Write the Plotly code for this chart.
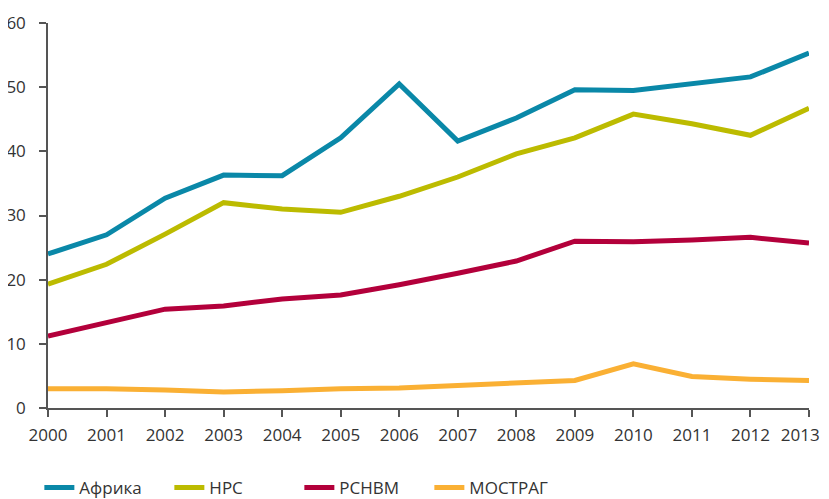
import plotly.graph_objects as go

years = list(range(2000, 2014))
year_labels = [str(y) for y in years[:-1]] + ["2013\u00a0\u00a0\u00a0\u00a0"]
africa = [24.0, 27.0, 32.7, 36.3, 36.2, 42.1, 50.5, 41.6, 45.2, 49.6, 49.5, 50.6, 51.6, 55.3]
nrs = [19.3, 22.4, 27.1, 32.0, 31.0, 30.5, 33.0, 36.0, 39.6, 42.1, 45.8, 44.3, 42.5, 46.7]
rsnvm = [11.2, 13.4, 15.4, 15.9, 17.0, 17.6, 19.2, 21.0, 22.9, 26.0, 25.9, 26.2, 26.6, 25.7]
mostrag = [3.0, 3.0, 2.8, 2.5, 2.7, 3.0, 3.1, 3.5, 3.8, 4.3, 6.9, 4.9, 4.5, 4.3]
yticks = [0, 10, 20, 30, 40, 50, 60]

series = [
    ("Африка", africa, "#0a88a8"),
    ("НРС", nrs, "#bcbb00"),
    ("РСНВМ", rsnvm, "#b3003b"),
    ("МОСТРАГ", mostrag, "#fab034"),
]

fig = go.Figure()
for name, vals, color in series:
    fig.add_trace(go.Scatter(
        x=years, y=vals, name=name, mode="lines",
        line=dict(color=color, width=5),
    ))

font_family = "Open Sans"
fig.update_layout(
    width=821, height=491,
    margin=dict(l=40, r=20, t=15, b=91),
    plot_bgcolor="white", paper_bgcolor="white",
    font=dict(family=font_family, size=17, color="#333333"),
    showlegend=True,
    legend=dict(
        orientation="h",
        xref="container", x=0.0382, xanchor="left",
        yref="container", y=0.0224, yanchor="middle",
        font=dict(size=17, color="#333333"), itemwidth=30,
        entrywidth=85, entrywidthmode="pixels",
    ),
    xaxis=dict(
        range=[2000, 2013], tickmode="array", tickvals=years,
        ticktext=year_labels, ticklabeloverflow="allow",
        showgrid=False, zeroline=False, automargin=False,
        showline=True, linecolor="#555555", linewidth=1.5,
        ticks="outside", ticklen=7, tickcolor="#555555", tickwidth=1.5,
        ticklabelstandoff=4,
    ),
    yaxis=dict(
        range=[0, 60], tickvals=yticks,
        showgrid=False, zeroline=False, automargin=False,
        showline=True, linecolor="#555555", linewidth=1.5,
        ticks="outside", ticklen=7, tickcolor="#555555", tickwidth=1.5,
        ticklabelstandoff=10,
    ),
)

fig.write_html("out.html")
